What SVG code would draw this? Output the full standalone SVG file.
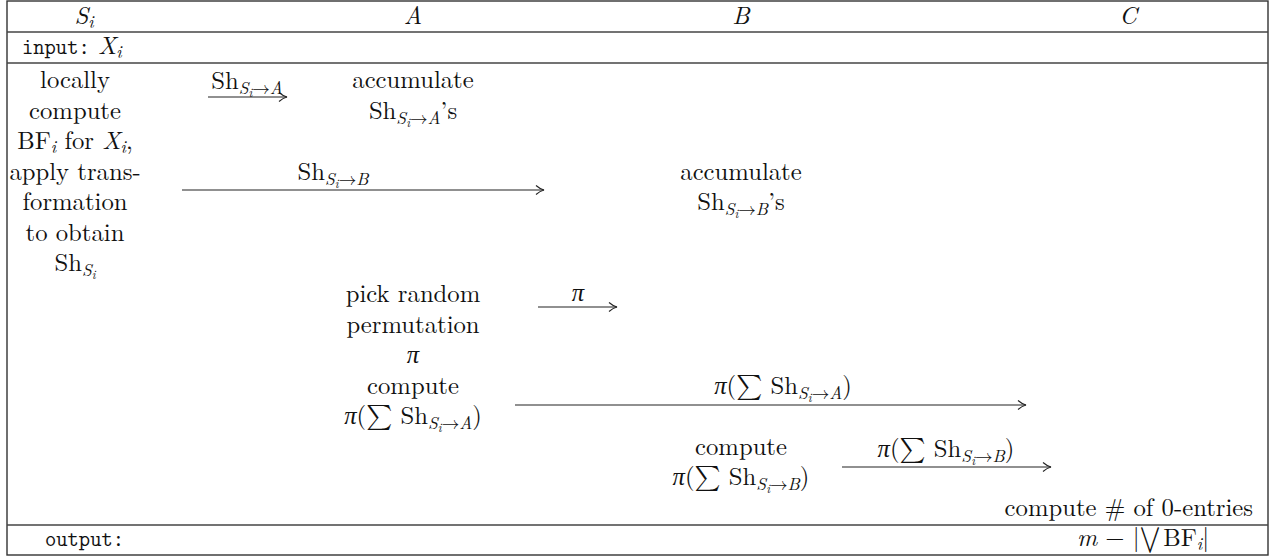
<svg xmlns="http://www.w3.org/2000/svg" width="1273" height="558" viewBox="0 0 1273 558">
<style>
text{font-family:"Latin Modern Roman","Liberation Serif",serif;font-size:24.7px;fill:#111}
.m{text-anchor:middle}
.e{text-anchor:end}
.i{font-style:italic}
.sub{font-size:17.5px}
.ss{font-size:12.5px}
.mx{font-family:"Latin Modern Math","Latin Modern Roman","DejaVu Serif",serif;font-style:normal}
.tt{font-family:"Latin Modern Mono","Liberation Mono",monospace;font-size:21.5px}
.frame{fill:none;stroke:#333;stroke-width:1.4}
.rule{stroke:#444;stroke-width:1.4}
.arr{fill:none;stroke:#222;stroke-width:1.1}
</style>
<defs>
<marker id="ah" markerWidth="12" markerHeight="12" refX="10" refY="6" orient="auto" markerUnits="userSpaceOnUse">
<path d="M2,1.5 Q6,5 10,6 Q6,7 2,10.5" fill="none" stroke="#222" stroke-width="1.1"/>
</marker>
</defs>
<rect width="1273" height="558" fill="#fff"/>
<g id="table">
<rect class="frame" x="7" y="1" width="1261" height="554"/>
<line class="rule" x1="7" y1="32" x2="1268" y2="32"/>
<line class="rule" x1="7" y1="63" x2="1268" y2="63"/>
<line class="rule" x1="7" y1="525" x2="1268" y2="525"/>
</g>
<g id="headers">
<text class="m" x="84" y="24"><tspan class="i">S</tspan><tspan class="sub i" dy="4">i</tspan></text>
<text class="m i" x="413" y="24">A</text>
<text class="m i" x="741" y="24">B</text>
<text class="m i" x="1128" y="24">C</text>
</g>
<g id="input">
<text x="22" y="54"><tspan class="tt">input:</tspan> <tspan class="i">X</tspan><tspan class="sub i" dy="4">i</tspan></text>
</g>
<g id="node-si">
<text class="m" x="75" y="88">locally</text>
<text class="m" x="75" y="118.6">compute</text>
<text class="m" x="75" y="149.1">BF<tspan class="sub i" dy="4">i</tspan><tspan dy="-4"> for </tspan><tspan class="i">X</tspan><tspan class="sub i" dy="4">i</tspan><tspan dy="-4">,</tspan></text>
<text class="m" x="75" y="179.7">apply trans-</text>
<text class="m" x="75" y="210.3">formation</text>
<text class="m" x="75" y="240.9">to obtain</text>
<text class="m" x="75" y="271.4">Sh<tspan class="sub i" dy="5">S</tspan><tspan class="ss i" dy="3">i</tspan></text>
</g>
<g id="node-a-accumulate">
<text class="m" x="413" y="88">accumulate</text>
<text class="m" x="413" y="118.6">Sh<tspan class="sub i" dy="5">S</tspan><tspan class="ss i" dy="3">i</tspan><tspan class="sub mx" dy="-3">→</tspan><tspan class="sub i">A</tspan><tspan dy="-5">’s</tspan></text>
</g>
<g id="node-b-accumulate">
<text class="m" x="741" y="179.7">accumulate</text>
<text class="m" x="741" y="210.3">Sh<tspan class="sub i" dy="5">S</tspan><tspan class="ss i" dy="3">i</tspan><tspan class="sub mx" dy="-3">→</tspan><tspan class="sub i">B</tspan><tspan dy="-5">’s</tspan></text>
</g>
<g id="node-a-permute">
<text class="m" x="413" y="302">pick random</text>
<text class="m" x="413" y="332.6">permutation</text>
<text class="m i" x="413" y="363.1">π</text>
<text class="m" x="413" y="393.7">compute</text>
<text class="m" x="413" y="424.3"><tspan class="i">π</tspan>(<tspan class="mx">∑</tspan> Sh<tspan class="sub i" dy="5">S</tspan><tspan class="ss i" dy="3">i</tspan><tspan class="sub mx" dy="-3">→</tspan><tspan class="sub i">A</tspan><tspan dy="-5">)</tspan></text>
</g>
<g id="node-b-compute">
<text class="m" x="741" y="454.9">compute</text>
<text class="m" x="741" y="485.4"><tspan class="i">π</tspan>(<tspan class="mx">∑</tspan> Sh<tspan class="sub i" dy="5">S</tspan><tspan class="ss i" dy="3">i</tspan><tspan class="sub mx" dy="-3">→</tspan><tspan class="sub i">B</tspan><tspan dy="-5">)</tspan></text>
</g>
<g id="node-c-compute">
<text class="e" x="1253" y="516">compute # of 0-entries</text>
</g>
<g id="output">
<text class="tt" x="45" y="546">output:</text>
<text class="m" x="1143" y="546"><tspan class="i">m</tspan> − |<tspan class="mx">⋁</tspan><tspan dx="3">BF</tspan><tspan class="sub i" dy="4">i</tspan><tspan dy="-4">|</tspan></text>
</g>
<g id="connectors">
<line class="arr" x1="208" y1="97" x2="287" y2="97" marker-end="url(#ah)"/>
<text class="m" x="247" y="89">Sh<tspan class="sub i" dy="5">S</tspan><tspan class="ss i" dy="3">i</tspan><tspan class="sub mx" dy="-3">→</tspan><tspan class="sub i">A</tspan></text>
<line class="arr" x1="182" y1="190" x2="544" y2="190" marker-end="url(#ah)"/>
<text class="m" x="333" y="180">Sh<tspan class="sub i" dy="5">S</tspan><tspan class="ss i" dy="3">i</tspan><tspan class="sub mx" dy="-3">→</tspan><tspan class="sub i">B</tspan></text>
<line class="arr" x1="538" y1="307" x2="617" y2="307" marker-end="url(#ah)"/>
<text class="m i" x="578" y="301">π</text>
<line class="arr" x1="515" y1="405" x2="1026" y2="405" marker-end="url(#ah)"/>
<text class="m" x="783" y="394"><tspan class="i">π</tspan>(<tspan class="mx">∑</tspan> Sh<tspan class="sub i" dy="5">S</tspan><tspan class="ss i" dy="3">i</tspan><tspan class="sub mx" dy="-3">→</tspan><tspan class="sub i">A</tspan><tspan dy="-5">)</tspan></text>
<line class="arr" x1="842" y1="467" x2="1051" y2="467" marker-end="url(#ah)"/>
<text class="m" x="946" y="457"><tspan class="i">π</tspan>(<tspan class="mx">∑</tspan> Sh<tspan class="sub i" dy="5">S</tspan><tspan class="ss i" dy="3">i</tspan><tspan class="sub mx" dy="-3">→</tspan><tspan class="sub i">B</tspan><tspan dy="-5">)</tspan></text>
</g>
</svg>
